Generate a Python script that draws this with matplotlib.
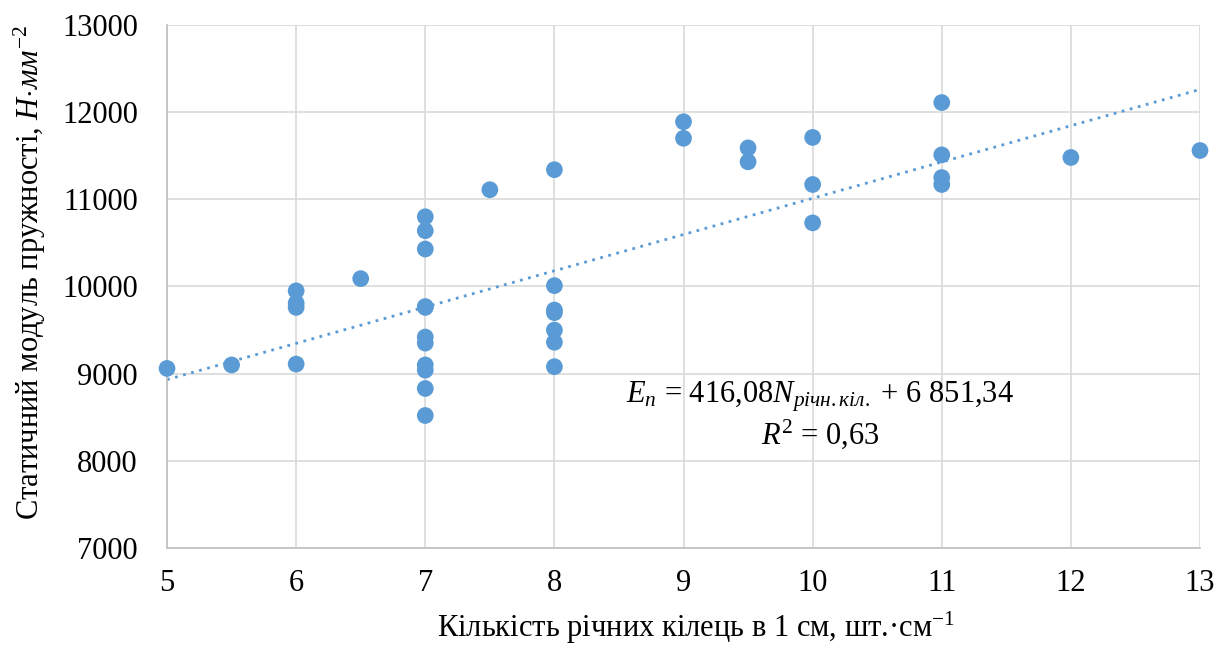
import numpy as np
import matplotlib
matplotlib.use('Agg')
import matplotlib.pyplot as plt

# data
rings = [5, 5.5,
         6, 6, 6, 6,
         6.5,
         7, 7, 7, 7, 7, 7, 7, 7, 7, 7, 7,
         7.5,
         8, 8, 8, 8, 8, 8, 8,
         9, 9,
         9.5, 9.5,
         10, 10, 10,
         11, 11, 11, 11,
         12, 13]
modulus = [9060, 9100,
           9950, 9810, 9760, 9110,
           10090,
           10800, 10640, 10430, 9770, 9760, 9420, 9350, 9100, 9040, 8830, 8520,
           11110,
           11340, 10010, 9730, 9700, 9500, 9360, 9080,
           11890, 11700,
           11590, 11430,
           11710, 11170, 10730,
           12110, 11510, 11250, 11170,
           11480, 11560]

# trend line coefficients from the chart
slope = 416.08
intercept = 6851.34
r2 = 0.63

xticks = [5, 6, 7, 8, 9, 10, 11, 12, 13]
yticks = [7000, 8000, 9000, 10000, 11000, 12000, 13000]

blue = '#5B9BD5'
grey = '#D9D9D9'
fs = 22

plt.rcParams['font.family'] = ['Liberation Serif', 'DejaVu Serif']
plt.rcParams['mathtext.fontset'] = 'custom'
plt.rcParams['mathtext.rm'] = 'Liberation Serif'
plt.rcParams['mathtext.it'] = 'Liberation Serif:italic'

fig = plt.figure(figsize=(12.21, 6.47), dpi=100)
ax = fig.add_axes([0.1368, 0.153, 0.9828 - 0.1368, 0.9614 - 0.153])

ax.scatter(rings, modulus, s=145, color=blue, zorder=3, clip_on=False,
           edgecolors='none')

xl = np.array([5, 13])
ax.plot(xl, slope * xl + intercept, color=blue, linestyle=(0, (1, 2.0)),
        linewidth=2, zorder=2)

ax.set_xlim(5, 13)
ax.set_ylim(7000, 13000)
ax.set_xticks(xticks)
ax.set_yticks(yticks)
ax.grid(True, color=grey, linewidth=1.2, zorder=0)
ax.set_axisbelow(True)
for s in ['top', 'right']:
    ax.spines[s].set_visible(False)
for s in ['left', 'bottom']:
    ax.spines[s].set_color('#BFBFBF')
    ax.spines[s].set_linewidth(1.2)
ax.tick_params(axis='both', length=0, labelsize=fs)
ax.tick_params(axis='y', pad=21)
ax.tick_params(axis='x', pad=15)

# axis titles
fig.text(696 / 1221, 1 - 628 / 647,
         'Кількість річних кілець в 1 см, шт.·см$^{\\mathregular{-1}}$',
         fontsize=fs, ha='center', va='center')
fig.text(30 / 1221, 1 - 272 / 647,
         'Статичний модуль пружності, $\\mathit{Н{\\cdot}мм}^{\\mathregular{-2}}$',
         fontsize=fs, ha='center', va='center', rotation=90)

eq = ('$\\mathit{E_n}$ = 416,08$\\mathit{N}_{\\mathit{річн.кіл.}}$ + 6 851,34')
ax.text(10.06, 8740, eq, fontsize=fs, ha='center', va='center')
ax.text(10.06, 8300, '$\\mathit{R}^{\\mathregular{2}}$ = 0,63', fontsize=fs,
        ha='center', va='center')

fig.savefig('out.png', dpi=100)
